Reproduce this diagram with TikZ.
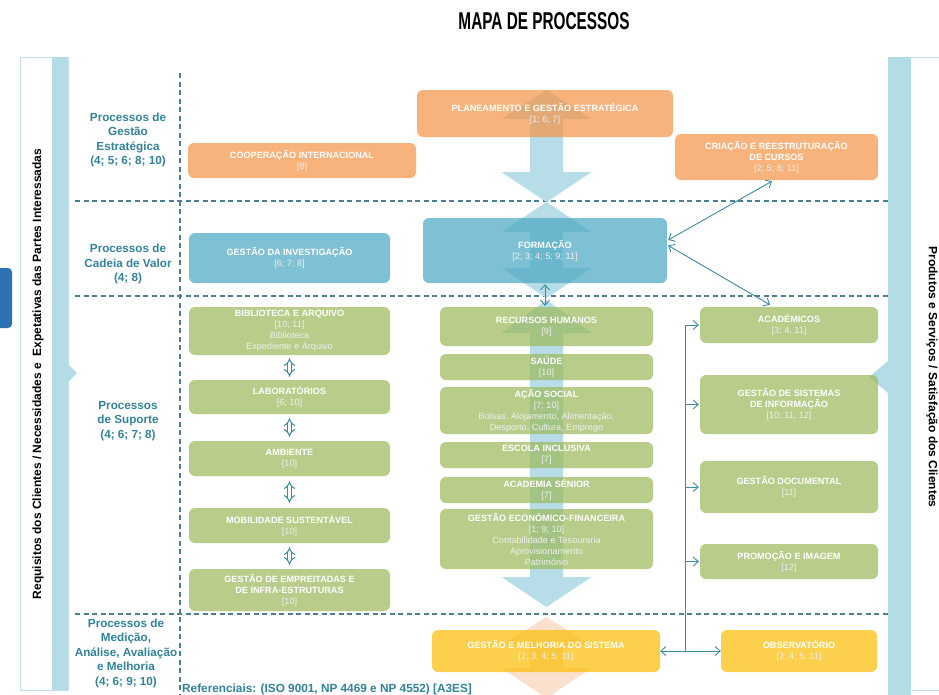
\documentclass[tikz,border=0pt]{standalone}
\usepackage{fontspec}
\setmainfont{Liberation Sans}
\usetikzlibrary{arrows.meta,calc}

\definecolor{bandblue}{HTML}{B4DCE6}
\definecolor{framecol}{HTML}{BFE0E9}
\definecolor{tabblue}{HTML}{2E72B5}
\definecolor{dashcol}{HTML}{4B7F92}
\definecolor{labelteal}{HTML}{31849B}
\definecolor{linkcol}{HTML}{3A8BA5}
\definecolor{flowblue}{HTML}{B6DDE8}
\definecolor{flowpeach}{HTML}{FBE0CC}
\definecolor{orangefill}{RGB}{245,148,68}
\definecolor{bluefill}{RGB}{74,168,194}
\definecolor{greenfill}{RGB}{154,184,88}
\definecolor{yellowfill}{RGB}{251,189,2}

\newcommand{\bt}[1]{{\bfseries #1}}
\newcommand{\nm}[1]{{\mdseries\color{white!94!black}#1}}

\tikzset{
  procbox/.style={rounded corners=6pt, fill opacity=0.7, text opacity=1,
    text=white, align=center, inner sep=1pt,
    font=\fontsize{9.1}{11}\selectfont},
  obox/.style={procbox, fill=orangefill},
  bbox/.style={procbox, fill=bluefill},
  gbox/.style={procbox, fill=greenfill},
  ybox/.style={procbox, fill=yellowfill},
  lanesep/.style={draw=dashcol, line width=1.2pt, dash pattern=on 5pt off 3.5pt},
  lanelabel/.style={text=labelteal, align=center,
    font=\fontsize{11.7}{14.5}\selectfont\bfseries},
  link/.style={draw=linkcol, line width=0.9pt,
    {Straight Barb[length=5pt,width=9pt]}-{Straight Barb[length=5pt,width=9pt]}},
  linkto/.style={draw=linkcol, line width=0.9pt,
    -{Straight Barb[length=5pt,width=9pt]}},
  chain/.style={draw=linkcol, double=white, double distance=3pt, line width=1pt,
    {Implies[length=5.5pt]}-{Implies[length=5.5pt]}},
  sidetext/.style={font=\fontsize{12}{14}\selectfont\bfseries, text=black}
}

\begin{document}
\begin{tikzpicture}[x=1pt,y=-1pt]
\useasboundingbox (0,0) rectangle (939,694);
\clip (0,0) rectangle (939,694);
\fill[white] (0,0) rectangle (939,694);

% title
\node (title) at (544,21) {\resizebox{171pt}{17pt}{\bfseries MAPA DE PROCESSOS}};

% left tab
\fill[tabblue, rounded corners=4pt] (-10,268) rectangle (12,328);

% left frame: inputs
\draw[framecol, line width=1pt, fill=white] (20,57) rectangle (68,690);
\fill[bandblue] (52,57) rectangle (68,690);
\fill[bandblue] (68,364) -- (77,373) -- (68,382) -- cycle;
\node[sidetext, rotate=90] (inputs) at (38,374)
  {Requisitos dos Clientes / Necessidades e\ \ Expetativas das Partes Interessadas};

% right frame: outputs
\draw[framecol, line width=1pt, fill=white] (888,57) rectangle (960,690);
\fill[bandblue] (888,57) rectangle (911,700);
\fill[bandblue] (888,361) -- (869,377) -- (888,393) -- cycle;
\node[sidetext, rotate=-90] (outputs) at (932,377)
  {Produtos e Serviços / Satisfação dos Clientes};

% lane separators
\draw[lanesep] (180,73) -- (180,694);
\draw[lanesep] (75,201) -- (888,201);
\draw[lanesep] (75,296) -- (888,296);
\draw[lanesep] (75,614) -- (888,614);

% lane labels
\node[lanelabel] (lgest) at (128,140) {Processos de\\Gestão\\Estratégica\\(4; 5; 6; 8; 10)};
\node[lanelabel] (lcad) at (128,264) {Processos de\\Cadeia de Valor\\(4; 8)};
\node[lanelabel] (lsup) at (128,421) {Processos\\de Suporte\\(4; 6; 7; 8)};
\node[lanelabel] (lmed) at (126,653) {Processos de\\Medição,\\Análise, Avaliação\\e Melhoria\\(4; 6; 9; 10)};

% broad flow arrows behind the boxes
\fill[flowblue] (546.5,90) -- (591.5,119) -- (563,119) -- (563,172) -- (591.5,172)
  -- (546.5,202) -- (501.5,172) -- (530,172) -- (530,119) -- (501.5,119) -- cycle;
\fill[flowblue] (546.5,202) -- (591.5,232) -- (563,232) -- (563,268) -- (591.5,268)
  -- (546.5,298) -- (501.5,268) -- (530,268) -- (530,232) -- (501.5,232) -- cycle;
\fill[flowblue] (546.5,300) -- (591.5,333) -- (563,333) -- (563,577) -- (591.5,577)
  -- (546.5,607) -- (501.5,577) -- (530,577) -- (530,333) -- (501.5,333) -- cycle;
\fill[flowpeach] (546.5,617) -- (591.5,645) -- (563,645) -- (563,668) -- (591.5,668)
  -- (546.5,698) -- (501.5,668) -- (530,668) -- (530,645) -- (501.5,645) -- cycle;

% strategic management
\node[obox, minimum width=256pt, minimum height=47pt] (plan) at (545,113.5)
  {\bt{PLANEAMENTO E GESTÃO ESTRATÉGICA}\\\nm{[1; 6; 7]}};
\node[obox, minimum width=228pt, minimum height=35pt] (coop) at (302,160.5)
  {\bt{COOPERAÇÃO INTERNACIONAL}\\\nm{[8]}};
\node[obox, minimum width=203pt, minimum height=46pt] (criacao) at (776.5,157)
  {\bt{CRIAÇÃO E REESTRUTURAÇÃO}\\\bt{DE CURSOS}\\\nm{[2; 5; 8; 11]}};

% value chain
\node[bbox, minimum width=201pt, minimum height=50pt] (invest) at (289.5,258)
  {\bt{GESTÃO DA INVESTIGAÇÃO}\\\nm{[6; 7; 8]}};
\node[bbox, minimum width=244pt, minimum height=65pt] (formacao) at (545,250.5)
  {\bt{FORMAÇÃO}\\\nm{[2; 3; 4; 5; 9; 11]}};

% support: left column
\node[gbox, minimum width=201pt, minimum height=48pt] (bib) at (289.5,331)
  {\bt{BIBLIOTECA E ARQUIVO}\\\nm{[10; 11]}\\\nm{Biblioteca}\\\nm{Expediente e Arquivo}};
\node[gbox, minimum width=201pt, minimum height=34pt] (lab) at (289.5,397)
  {\bt{LABORATÓRIOS}\\\nm{[6; 10]}};
\node[gbox, minimum width=201pt, minimum height=35pt] (amb) at (289.5,458.5)
  {\bt{AMBIENTE}\\\nm{[10]}};
\node[gbox, minimum width=201pt, minimum height=35pt] (mob) at (289.5,525.5)
  {\bt{MOBILIDADE SUSTENTÁVEL}\\\nm{[10]}};
\node[gbox, minimum width=201pt, minimum height=42pt] (emp) at (289.5,590)
  {\bt{GESTÃO DE EMPREITADAS E}\\\bt{DE INFRA-ESTRUTURAS}\\\nm{[10]}};

% support: middle column
\node[gbox, minimum width=213pt, minimum height=39pt] (rh) at (546.5,326.5)
  {\bt{RECURSOS HUMANOS}\\\nm{[9]}};
\node[gbox, minimum width=213pt, minimum height=26pt] (saude) at (546.5,367)
  {\bt{SAÚDE}\\\nm{[10]}};
\node[gbox, minimum width=213pt, minimum height=47pt] (acao) at (546.5,410.5)
  {\bt{AÇÃO SOCIAL}\\\nm{[7; 10]}\\\nm{Bolsas, Alojamento, Alimentação,}\\\nm{Desporto, Cultura, Emprego}};
\node[gbox, minimum width=213pt, minimum height=26pt] (escola) at (546.5,455)
  {\bt{ESCOLA INCLUSIVA}\\\nm{[7]}};
\node[gbox, minimum width=213pt, minimum height=26pt] (senior) at (546.5,490)
  {\bt{ACADEMIA SÉNIOR}\\\nm{[7]}};
\node[gbox, minimum width=213pt, minimum height=60pt] (gef) at (546.5,539)
  {\bt{GESTÃO ECONÓMICO-FINANCEIRA}\\\nm{[1; 9; 10]}\\\nm{Contabilidade e Tesouraria}\\\nm{Aprovisionamento}\\\nm{Património}};

% support: right column
\node[gbox, minimum width=178pt, minimum height=36pt] (acad) at (789,325)
  {\bt{ACADÉMICOS}\\\nm{[3; 4, 11]}};
\node[gbox, minimum width=178pt, minimum height=59pt] (gsi) at (789,404.5)
  {\bt{GESTÃO DE SISTEMAS}\\\bt{DE INFORMAÇÃO}\\\nm{[10; 11; 12]}};
\node[gbox, minimum width=178pt, minimum height=52pt] (gdoc) at (789,487)
  {\bt{GESTÃO DOCUMENTAL}\\\nm{[11]}};
\node[gbox, minimum width=178pt, minimum height=35pt] (promo) at (789,561.5)
  {\bt{PROMOÇÃO E IMAGEM}\\\nm{[12]}};

% measurement and improvement
\node[ybox, minimum width=228pt, minimum height=42pt] (gms) at (546,651)
  {\bt{GESTÃO E MELHORIA DO SISTEMA}\\\nm{[1; 3; 4; 5; 11]}};
\node[ybox, minimum width=156pt, minimum height=42pt] (obs) at (799,651)
  {\bt{OBSERVATÓRIO}\\\nm{[2; 4; 5; 11]}};

% links from FORMAÇÃO
\draw[link] ($(formacao.east)+(1,-10.5)$) -- ($(criacao.south)+(-4.5,1)$);
\draw[link] ($(formacao.east)+(1,-5)$) -- ($(acad.north)+(-19,-2)$);
\draw[link] ($(formacao.south)+(0,1)$) -- ($(formacao.south |- rh.north)+(0,-1)$);

% chain between left support boxes
\draw[chain] ($(bib.south)+(0,3)$) -- ($(lab.north)+(0,-3)$);
\draw[chain] ($(lab.south)+(0,4)$) -- ($(amb.north)+(0,-4)$);
\draw[chain] ($(amb.south)+(0,5)$) -- ($(mob.north)+(0,-5)$);
\draw[chain] ($(mob.south)+(0,4)$) -- ($(emp.north)+(0,-4)$);

% improvement bus
\draw[link] (gms.east) -- (obs.west);
\coordinate (bus) at ($(gms.east)!0.41!(obs.west)$);
\draw[linkto] (bus) |- ($(acad.west)+(-1,0)$);
\draw[linkto] (bus |- gsi.west) -- ($(gsi.west)+(-1,0)$);
\draw[linkto] (bus |- gdoc.west) -- ($(gdoc.west)+(-1,0)$);
\draw[linkto] (bus |- promo.west) -- ($(promo.west)+(-1,0)$);

% references
\node[anchor=base west, inner sep=0pt, text=labelteal, font=\fontsize{11.8}{13}\selectfont\bfseries] (refs)
  at (182,692.5) {Referenciais: (ISO 9001, NP 4469 e NP 4552) [A3ES]};
\end{tikzpicture}
\end{document}
